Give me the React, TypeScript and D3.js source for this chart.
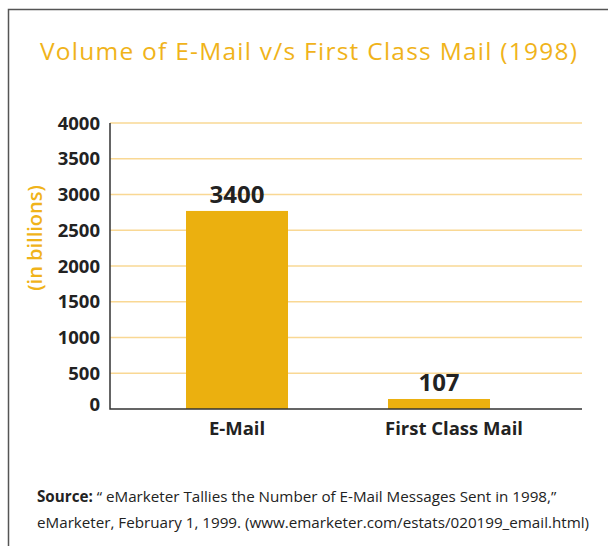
import * as d3 from "d3";
import React, { useEffect, useRef } from "react";

const categories = ["E-Mail", "First Class Mail"];
// bar heights as drawn in the picture (the printed labels differ)
const barValues = [2770, 140];
const valueLabels = ["3400", "107"];
const yTicks = [0, 500, 1000, 1500, 2000, 2500, 3000, 3500, 4000];

const title = "Volume of E-Mail v/s First Class Mail (1998)";
const yTitle = "(in billions)";
const sourceLine1 = "\u201C eMarketer Tallies the Number of E-Mail Messages Sent in 1998,\u201D";
const sourceLine2 = "eMarketer, February 1, 1999. (www.emarketer.com/estats/020199_email.html)";

const orange = "#f0b31a";
const barColor = "#ebb00f";
const gridColor = "#f9d894";
const dark = "#222";
const font = "'Open Sans', sans-serif";

const App = () => {
  const ref = useRef<SVGSVGElement>(null);

  useEffect(() => {
    const width = 608,
      height = 546;
    const svg = d3.select(ref.current);
    svg.selectAll("*").remove();

    // frame
    svg
      .append("path")
      .attr("d", `M8.5,${height} V9.5 H${width}`)
      .attr("fill", "none")
      .attr("stroke", "#555")
      .attr("stroke-width", 1.5);

    svg
      .append("text")
      .attr("x", 40)
      .attr("y", 60)
      .attr("fill", orange)
      .style("font-family", font)
      .style("font-size", "24.5px")
      .style("letter-spacing", "1.25px")
      .text(title);

    const left = 110,
      right = 582;
    const y = d3.scaleLinear().domain([0, 4000]).range([409, 123]);
    const x = d3
      .scaleBand()
      .domain(categories)
      .range([186, 490])
      .paddingInner(0.495)
      .paddingOuter(0);

    // grid
    svg
      .append("g")
      .selectAll("line")
      .data(yTicks.filter((d) => d > 0))
      .join("line")
      .attr("x1", left)
      .attr("x2", right)
      .attr("y1", (d) => y(d))
      .attr("y2", (d) => y(d))
      .attr("stroke", gridColor)
      .attr("stroke-width", 1.5);

    // tick labels (the zero sits a bit above the axis in the original)
    svg
      .append("g")
      .selectAll("text")
      .data(yTicks)
      .join("text")
      .attr("x", 100)
      .attr("y", (d) => y(d) - (d === 0 ? 5 : 0))
      .attr("dy", "0.36em")
      .attr("text-anchor", "end")
      .attr("fill", dark)
      .style("font-family", font)
      .style("font-weight", "bold")
      .style("font-size", "18.5px")
      .text((d) => d);

    svg
      .append("text")
      .attr("transform", `translate(42,238) rotate(-90)`)
      .attr("text-anchor", "middle")
      .attr("fill", orange)
      .style("font-family", font)
      .style("font-weight", 600)
      .style("font-size", "20px")
      .text(yTitle);

    // bars
    svg
      .append("g")
      .selectAll("rect")
      .data(barValues)
      .join("rect")
      .attr("x", (d, i) => x(categories[i]))
      .attr("width", x.bandwidth())
      .attr("y", (d) => y(d))
      .attr("height", (d) => y(0) - y(d))
      .attr("fill", barColor);

    svg
      .append("g")
      .selectAll("text")
      .data(barValues)
      .join("text")
      .attr("x", (d, i) => x(categories[i]) + x.bandwidth() / 2)
      .attr("y", (d) => y(d) - 8)
      .attr("text-anchor", "middle")
      .attr("fill", dark)
      .style("font-family", font)
      .style("font-weight", "bold")
      .style("font-size", "24px")
      .text((d, i) => valueLabels[i]);

    // axes
    svg
      .append("path")
      .attr("d", `M${left},${y(4000)} V${y(0)} H${right}`)
      .attr("fill", "none")
      .attr("stroke", "#333")
      .attr("stroke-width", 1.5);

    svg
      .append("g")
      .selectAll("text")
      .data(categories)
      .join("text")
      // the second label sits a little right of its bar in the original
      .attr("x", (d, i) => x(d) + x.bandwidth() / 2 + (i === 1 ? 15 : 0))
      .attr("y", 435)
      .attr("text-anchor", "middle")
      .attr("fill", dark)
      .style("font-family", font)
      .style("font-weight", "bold")
      .style("font-size", "18.5px")
      .text((d) => d);

    // source
    const src = svg
      .append("text")
      .attr("x", 37)
      .attr("y", 502)
      .attr("fill", dark)
      .style("font-family", font)
      .style("font-size", "15.2px");
    src.append("tspan").style("font-weight", "bold").text("Source: ");
    src.append("tspan").text(sourceLine1);
    svg
      .append("text")
      .attr("x", 37)
      .attr("y", 528)
      .attr("fill", dark)
      .style("font-family", font)
      .style("font-size", "15.2px")
      .text(sourceLine2);
  }, []);

  return (
    <svg
      ref={ref}
      width={608}
      height={546}
      style={{ position: "absolute", left: 0, top: 0, background: "#fff" }}
    />
  );
};

export default App;
